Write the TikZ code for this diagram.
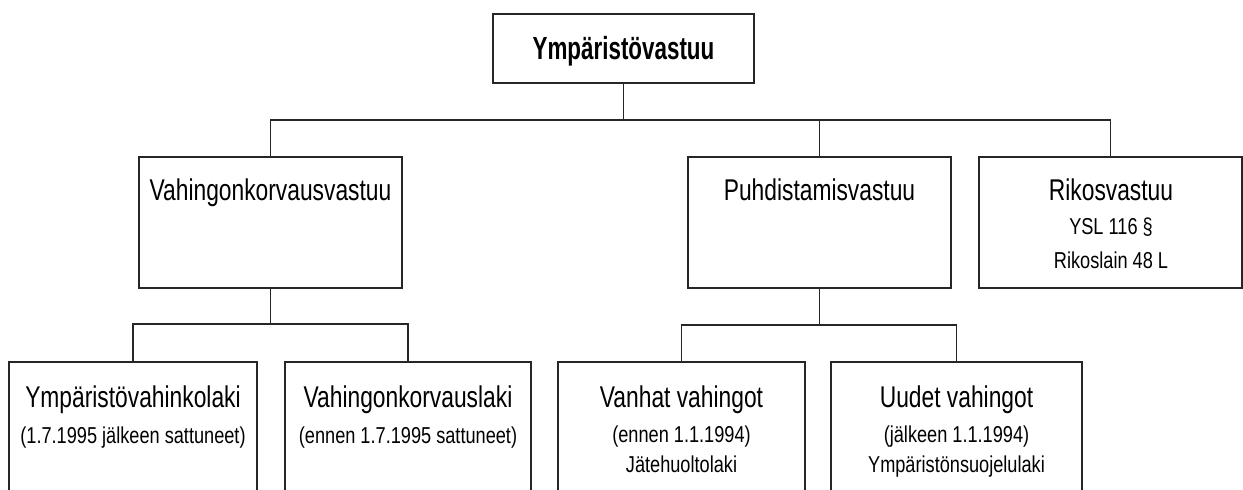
\documentclass[tikz,border=0pt]{standalone}
\usepackage{fontspec}
\setmainfont{Liberation Sans}[FakeStretch=0.76]
\newfontfamily\narrowsmall{Liberation Sans}[FakeStretch=0.79]
\newfontfamily\narrowbold{Liberation Sans}[FakeStretch=0.70]
\begin{document}
\begin{tikzpicture}[x=1pt,y=-1pt,
  box/.style={draw=black!85, line width=1.2pt, rectangle, inner sep=0pt},
  conn/.style={draw=black!85, line width=1.2pt},
  bigtxt/.style={font=\fontsize{30}{32}\selectfont, inner sep=0pt, anchor=base},
  bigbold/.style={font=\narrowbold\fontsize{32}{34}\selectfont\bfseries, inner sep=0pt, anchor=base},
  smalltxt/.style={font=\narrowsmall\fontsize{23}{25}\selectfont, inner sep=0pt, anchor=base},
]
\useasboundingbox (0,0) rectangle (1243,490);
\clip (0,0) rectangle (1243,490);
\fill[white] (0,0) rectangle (1243,490);

% boxes
\node[box, minimum width=261pt, minimum height=69pt] (top) at (623.5,48.5) {};
\node[box, minimum width=263pt, minimum height=131pt] (V) at (270.5,222.5) {};
\node[box, minimum width=263pt, minimum height=131pt] (P) at (819.5,222.5) {};
\node[box, minimum width=263pt, minimum height=131pt] (R) at (1110.5,222.5) {};
\node[box, minimum width=248pt, minimum height=158pt] (A) at (133,441) {};
\node[box, minimum width=246pt, minimum height=158pt] (B) at (408,441) {};
\node[box, minimum width=247pt, minimum height=158pt] (C) at (681.5,441) {};
\node[box, minimum width=251pt, minimum height=158pt] (D) at (956.5,441) {};

% bus coordinates
\coordinate (bus1) at (623.5,120);
\coordinate (bus2) at (270.5,324);
\coordinate (bus3) at (819.5,325);

% connectors
\draw[conn] (top.south) -- (bus1);
\draw[conn] (V.north) -- (V.north |- bus1) -- (R.north |- bus1) -- (R.north);
\draw[conn] (P.north) -- (P.north |- bus1);
\draw[conn] (V.south) -- (bus2);
\draw[conn] (A.north) -- (A.north |- bus2) -- (B.north |- bus2) -- (B.north);
\draw[conn] (P.south) -- (bus3);
\draw[conn] (C.north) -- (C.north |- bus3) -- (D.north |- bus3) -- (D.north);

% texts
\node[bigbold] (tT) at (623.5,59) {Ympäristövastuu};
\node[bigtxt] (tV) at (270.5,200) {Vahingonkorvausvastuu};
\node[bigtxt] (tP) at (819.5,200) {Puhdistamisvastuu};
\node[bigtxt] (tR1) at (1111,200) {Rikosvastuu};
\node[smalltxt] (tR2) at (1111,234) {YSL 116 §};
\node[smalltxt] (tR3) at (1111,268) {Rikoslain 48 L};
\node[bigtxt] (tA1) at (133,407) {Ympäristövahinkolaki};
\node[smalltxt] (tA2) at (133,443) {(1.7.1995 jälkeen sattuneet)};
\node[bigtxt] (tB1) at (408,407) {Vahingonkorvauslaki};
\node[smalltxt] (tB2) at (408,443) {(ennen 1.7.1995 sattuneet)};
\node[bigtxt] (tC1) at (681.5,407) {Vanhat vahingot};
\node[smalltxt] (tC2) at (681.5,442) {(ennen 1.1.1994)};
\node[smalltxt] (tC3) at (681.5,472) {Jätehuoltolaki};
\node[bigtxt] (tD1) at (956.5,407) {Uudet vahingot};
\node[smalltxt] (tD2) at (956.5,442) {(jälkeen 1.1.1994)};
\node[smalltxt] (tD3) at (956.5,472) {Ympäristönsuojelulaki};
\end{tikzpicture}
\end{document}
